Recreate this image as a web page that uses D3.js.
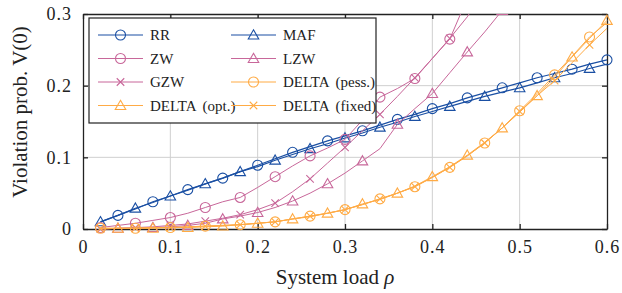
<!DOCTYPE html>
<html>
<head>
<meta charset="utf-8">
<script src="https://cdn.jsdelivr.net/npm/d3@7"></script>
<style>
  body { margin: 0; background: #fff; }
  svg text { font-family: "Liberation Serif", "Times New Roman", Times, "DejaVu Serif", serif; fill: #222; }
</style>
</head>
<body>
<div id="chart"></div>
<script>
// system load values
const rho = [0.02, 0.04, 0.06, 0.08, 0.10, 0.12, 0.14, 0.16, 0.18, 0.20,
             0.22, 0.24, 0.26, 0.28, 0.30, 0.32, 0.34, 0.36, 0.38, 0.40,
             0.42, 0.44, 0.46, 0.48, 0.50, 0.52, 0.54, 0.56, 0.58, 0.60];

const rr   = [0.010, 0.019, 0.028, 0.038, 0.046, 0.055, 0.063, 0.071, 0.080, 0.089,
              0.098, 0.107, 0.115, 0.123, 0.130, 0.137, 0.145, 0.153, 0.160, 0.168,
              0.175, 0.183, 0.190, 0.197, 0.204, 0.211, 0.217, 0.223, 0.230, 0.236];
const maf  = [0.010, 0.019, 0.029, 0.037, 0.046, 0.054, 0.063, 0.071, 0.080, 0.087,
              0.096, 0.104, 0.112, 0.119, 0.127, 0.134, 0.142, 0.149, 0.157, 0.164,
              0.171, 0.178, 0.185, 0.191, 0.197, 0.204, 0.211, 0.217, 0.224, 0.230];
const zw   = [0.002, 0.005, 0.008, 0.012, 0.016, 0.022, 0.030, 0.038, 0.044, 0.058,
              0.073, 0.088, 0.102, 0.113, 0.125, 0.152, 0.184, 0.196, 0.210, 0.238,
              0.265, 0.322, 0.380, null, null, null, null, null, null, null];
const lzw  = [0.000, 0.001, 0.001, 0.002, 0.003, 0.005, 0.008, 0.014, 0.018, 0.023,
              0.030, 0.039, 0.050, 0.063, 0.078, 0.095, 0.112, 0.146, 0.168, 0.189,
              0.218, 0.247, 0.275, 0.305, 0.340, null, null, null, null, null];
const gzw  = [0.000, 0.001, 0.002, 0.003, 0.005, 0.007, 0.011, 0.015, 0.020, 0.027,
              0.036, 0.052, 0.070, 0.092, 0.114, 0.137, 0.160, 0.185, 0.211, 0.238,
              0.266, 0.296, 0.335, null, null, null, null, null, null, null];
const pess = [0.001, 0.001, 0.001, 0.002, 0.002, 0.003, 0.004, 0.005, 0.006, 0.008,
              0.010, 0.014, 0.018, 0.022, 0.027, 0.034, 0.042, 0.050, 0.059, 0.072,
              0.086, 0.102, 0.120, 0.141, 0.165, 0.189, 0.215, 0.241, 0.268, 0.288];
const opt  = [0.000, 0.001, 0.001, 0.001, 0.002, 0.002, 0.003, 0.004, 0.006, 0.008,
              0.010, 0.014, 0.017, 0.022, 0.027, 0.035, 0.041, 0.050, 0.060, 0.073,
              0.087, 0.103, 0.121, 0.141, 0.163, 0.186, 0.212, 0.240, 0.266, 0.291];
const fixd = [0.001, 0.001, 0.001, 0.002, 0.002, 0.003, 0.004, 0.005, 0.006, 0.008,
              0.010, 0.014, 0.018, 0.022, 0.027, 0.034, 0.042, 0.050, 0.059, 0.072,
              0.086, 0.102, 0.120, 0.141, 0.164, 0.186, 0.207, 0.232, 0.257, 0.280];

const xTicks = [0, 0.1, 0.2, 0.3, 0.4, 0.5, 0.6];
const yTicks = [0, 0.1, 0.2, 0.3];

const blue = "#1a4fa3", pink = "#c8679a", orange = "#ffab45";
const serif = '"Liberation Serif", "Times New Roman", Times, "DejaVu Serif", serif';

// phase 0 -> markers at 0.02, 0.06, ... ; phase 1 -> 0.04, 0.08, ...
const series = [
  {name: "RR", values: rr, color: blue, shape: "circle", phase: 1},
  {name: "MAF", values: maf, color: blue, shape: "triangle", phase: 0},
  {name: "ZW", values: zw, color: pink, shape: "circle", phase: 0},
  {name: "LZW", values: lzw, color: pink, shape: "triangle", phase: 1},
  {name: "GZW", values: gzw, color: pink, shape: "cross", phase: 0},
  {name: "DELTA (pess.)", values: pess, color: orange, shape: "circle", phase: 0},
  {name: "DELTA (opt.)", values: opt, color: orange, shape: "triangle", phase: 1},
  {name: "DELTA (fixed)", values: fixd, color: orange, shape: "cross", phase: 0}
];

const margin = {top: 14, right: 15, bottom: 64, left: 83},
    width = 622 - margin.left - margin.right,
    height = 293 - margin.top - margin.bottom;

const svg = d3.select("#chart").append("svg")
    .attr("width", 622)
    .attr("height", 293)
    .append("g")
    .attr("transform", "translate(" + margin.left + "," + margin.top + ")");

const x = d3.scaleLinear().domain([0, 0.6]).range([0, width]);
const y = d3.scaleLinear().domain([0, 0.3]).range([height, 0]);

svg.append("defs").append("clipPath").attr("id", "clip")
    .append("rect").attr("x", -8).attr("y", 0).attr("width", width + 16).attr("height", height + 8);

// grid
svg.append("g").selectAll("line").data(xTicks.slice(1, -1)).enter().append("line")
    .attr("x1", d => x(d)).attr("x2", d => x(d)).attr("y1", 0).attr("y2", height)
    .attr("stroke", "#cfcfcf").attr("stroke-width", 1);
svg.append("g").selectAll("line").data(yTicks.slice(1, -1)).enter().append("line")
    .attr("y1", d => y(d)).attr("y2", d => y(d)).attr("x1", 0).attr("x2", width)
    .attr("stroke", "#cfcfcf").attr("stroke-width", 1);

// axes with inward ticks on all four sides
const fmt = d => d === 0 ? "0" : d3.format(".1f")(d);
svg.append("g").attr("class", "axis").attr("transform", "translate(0," + height + ")")
    .call(d3.axisBottom(x).tickValues(xTicks).tickFormat(fmt).tickSizeInner(-5).tickSizeOuter(0).tickPadding(11));
svg.append("g").attr("class", "axis")
    .call(d3.axisLeft(y).tickValues(yTicks).tickFormat(fmt).tickSizeInner(-5).tickSizeOuter(0).tickPadding(11));
svg.append("g").attr("class", "axis")
    .call(d3.axisTop(x).tickValues(xTicks).tickFormat("").tickSizeInner(-5).tickSizeOuter(0));
svg.append("g").attr("class", "axis").attr("transform", "translate(" + width + ",0)")
    .call(d3.axisRight(y).tickValues(yTicks).tickFormat("").tickSizeInner(-5).tickSizeOuter(0));
svg.selectAll(".axis").attr("font-family", serif);
svg.selectAll(".axis path").attr("stroke", "#222").attr("stroke-width", 1.3);
svg.selectAll(".axis line").attr("stroke", "#222").attr("stroke-width", 1.3);
svg.selectAll(".axis text").attr("font-family", serif).style("font-size", "18px")
    .attr("fill", "#333").style("letter-spacing", "1px");

function drawMarker(g, shape, color, cx, cy, r) {
  if (shape === "circle") {
    g.append("circle").attr("cx", cx).attr("cy", cy).attr("r", r)
        .attr("fill", "none").attr("stroke", color).attr("stroke-width", 1.1);
  } else if (shape === "triangle") {
    const s = r * 1.05;
    g.append("path")
        .attr("d", "M" + cx + "," + (cy - s) + "L" + (cx + s) + "," + (cy + s * 0.75) + "L" + (cx - s) + "," + (cy + s * 0.75) + "Z")
        .attr("fill", "none").attr("stroke", color).attr("stroke-width", 1.1);
  } else {
    const s = r * 0.75;
    g.append("path")
        .attr("d", "M" + (cx - s) + "," + (cy - s) + "L" + (cx + s) + "," + (cy + s) + "M" + (cx - s) + "," + (cy + s) + "L" + (cx + s) + "," + (cy - s))
        .attr("fill", "none").attr("stroke", color).attr("stroke-width", 1.1);
  }
}

const line = d3.line()
    .defined(d => d[1] !== null)
    .x(d => x(d[0]))
    .y(d => y(d[1]));

const plot = svg.append("g").attr("clip-path", "url(#clip)");
series.forEach(function (s) {
  const pts = rho.map((r, i) => [r, s.values[i]]);
  plot.append("path").datum(pts)
      .attr("d", line)
      .attr("fill", "none")
      .attr("stroke", s.color)
      .attr("stroke-width", s.color === blue ? 1.2 : 1);
  const mg = plot.append("g");
  pts.forEach(function (p, i) {
    if (p[1] === null || p[1] > 0.31) return;
    if (i % 2 !== s.phase) return;
    drawMarker(mg, s.shape, s.color, x(p[0]), y(p[1]), 5);
  });
});

// legend
const lg = svg.append("g").attr("transform", "translate(6,4)");
lg.append("rect").attr("width", 287).attr("height", 105)
    .attr("fill", "#fff").attr("stroke", "#222").attr("stroke-width", 1.2);
series.forEach(function (s, i) {
  const col = i % 2, row = Math.floor(i / 2);
  const gx = 9 + col * 133, gy = 17 + row * 23.5;
  lg.append("line").attr("x1", gx).attr("x2", gx + 45).attr("y1", gy).attr("y2", gy)
      .attr("stroke", s.color).attr("stroke-width", s.color === blue ? 1.2 : 1);
  drawMarker(lg, s.shape, s.color, gx + 22.5, gy, 5);
  lg.append("text").attr("x", gx + 52).attr("y", gy + 5)
      .attr("font-family", serif)
      .style("font-size", "15px").style("word-spacing", "3px")
      .text(s.name);
});

// axis titles
svg.append("text")
    .attr("x", 252).attr("y", height + 55)
    .attr("text-anchor", "middle")
    .attr("font-family", serif)
    .style("font-size", "21px")
    .html('System load <tspan font-style="italic">ρ</tspan>');
svg.append("text")
    .attr("transform", "translate(-56,98) rotate(-90)")
    .attr("text-anchor", "middle")
    .attr("font-family", serif)
    .style("font-size", "21px")
    .text("Violation prob. V(0)");
</script>
</body>
</html>
